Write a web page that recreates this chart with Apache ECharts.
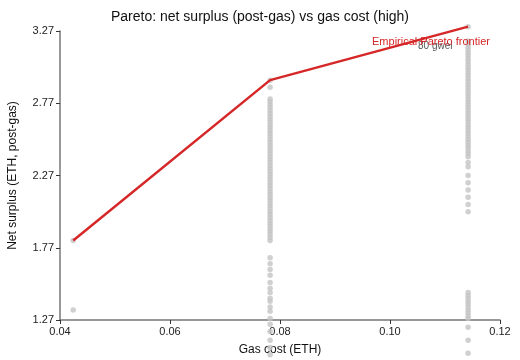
<!DOCTYPE html>
<html>
<head>
<meta charset="utf-8">
<script src="https://cdn.jsdelivr.net/npm/echarts@6/dist/echarts.min.js"></script>
<style>
  html, body { margin: 0; padding: 0; background: #fff; }
  #chart { width: 520px; height: 360px; }
</style>
</head>
<body>
<div id="chart"></div>
<script>
// gas cost per gas-price level (ETH)
const gasLow = 0.0424;
const gasMid = 0.0782;
const gasHigh = 0.1142;

// net surplus samples (ETH, post-gas) for each gas level
const lowSurplus = [1.82, 1.34];
const midSurplus = [
  2.93, 2.88,
  2.80, 2.78, 2.76, 2.74, 2.72, 2.70, 2.68, 2.66, 2.64, 2.62,
  2.60, 2.58, 2.56, 2.54, 2.52, 2.50, 2.48, 2.46, 2.44, 2.42,
  2.40, 2.38, 2.36, 2.34, 2.32, 2.30, 2.28, 2.26, 2.24, 2.22,
  2.20, 2.18, 2.16, 2.14, 2.12, 2.10, 2.08, 2.06, 2.04, 2.02,
  2.00, 1.98, 1.96, 1.94, 1.92, 1.90, 1.88, 1.86, 1.84, 1.82,
  1.70, 1.66, 1.62, 1.58, 1.53, 1.49, 1.46, 1.42, 1.40, 1.36,
  1.33, 1.28, 1.24, 1.19, 1.13, 1.08, 1.03
];
const highSurplus = [
  3.30,
  3.20, 3.18, 3.16, 3.14, 3.12, 3.10, 3.08, 3.06, 3.04, 3.02,
  3.00, 2.98, 2.96, 2.94, 2.92, 2.90, 2.88, 2.86, 2.84, 2.82,
  2.80, 2.78, 2.76, 2.74, 2.72, 2.70, 2.68, 2.66, 2.64, 2.62,
  2.60, 2.58, 2.56, 2.54, 2.52, 2.50, 2.48, 2.46, 2.44, 2.42,
  2.40, 2.36, 2.33, 2.27, 2.22, 2.17, 2.12, 2.07, 2.02,
  1.46, 1.44, 1.42, 1.40, 1.38, 1.36, 1.34, 1.32, 1.30, 1.28,
  1.22, 1.13, 1.04
];

// empirical pareto frontier
const frontierGas = [0.0424, 0.0782, 0.1142];
const frontierSurplus = [1.82, 2.93, 3.30];

const yTicks = [1.27, 1.77, 2.27, 2.77, 3.27];
const xTicks = [0.04, 0.06, 0.08, 0.10, 0.12];

function pairs(x, ys) {
  return ys.map(v => [x, v]);
}

const scatterData = []
  .concat(pairs(gasLow, lowSurplus))
  .concat(pairs(gasMid, midSurplus))
  .concat(pairs(gasHigh, highSurplus));

const chart = echarts.init(document.getElementById('chart'));
const font = '"Liberation Sans", Arial, sans-serif';

chart.setOption({
  animation: false,
  textStyle: { fontFamily: font },
  title: {
    text: 'Pareto: net surplus (post-gas) vs gas cost (high)',
    left: 'center',
    top: 5,
    textStyle: { fontSize: 14, fontWeight: 'normal', color: '#111', fontFamily: font }
  },
  grid: { left: 60, right: 20, top: 31, bottom: 40, outerBoundsMode: 'none' },
  xAxis: {
    type: 'value',
    min: 0.04,
    max: 0.12,
    name: 'Gas cost (ETH)',
    nameLocation: 'middle',
    nameGap: 24,
    nameTextStyle: { fontSize: 12, color: '#111' },
    splitLine: { show: false },
    axisLine: { show: true, lineStyle: { color: '#777', width: 1.5 } },
    axisTick: { show: true, length: 4, lineStyle: { color: '#333' }, customValues: xTicks },
    axisLabel: {
      fontSize: 11, color: '#222', margin: 6,
      customValues: xTicks,
      formatter: v => v.toFixed(2)
    }
  },
  yAxis: {
    type: 'value',
    min: 1.27,
    max: 3.27,
    name: 'Net surplus (ETH, post-gas)',
    nameLocation: 'middle',
    nameGap: 41,
    nameTextStyle: { fontSize: 12, color: '#111' },
    splitLine: { show: false },
    axisLine: { show: true, lineStyle: { color: '#777', width: 1.5 } },
    axisTick: { show: true, length: 4, lineStyle: { color: '#333' }, customValues: yTicks },
    axisLabel: {
      fontSize: 11, color: '#222', margin: 6,
      customValues: yTicks,
      formatter: v => v.toFixed(2)
    }
  },
  series: [
    {
      name: 'samples',
      type: 'scatter',
      clip: false,
      symbolSize: 5.5,
      itemStyle: { color: '#c4c4c4', opacity: 0.8 },
      data: scatterData,
      z: 2
    },
    {
      name: 'Empirical Pareto frontier',
      type: 'line',
      clip: false,
      showSymbol: false,
      lineStyle: { color: '#d62728', width: 2.5 },
      data: frontierGas.map((g, i) => [g, frontierSurplus[i]]),
      z: 3
    }
  ],
  graphic: [
    {
      type: 'text',
      left: 418,
      top: 41,
      z: 4,
      style: { text: '80 gwei', fill: '#555', font: '10px ' + font }
    },
    {
      type: 'text',
      right: 30,
      top: 36,
      z: 5,
      style: { text: 'Empirical Pareto frontier', fill: '#d62728', font: '11px ' + font }
    }
  ]
});
</script>
</body>
</html>
